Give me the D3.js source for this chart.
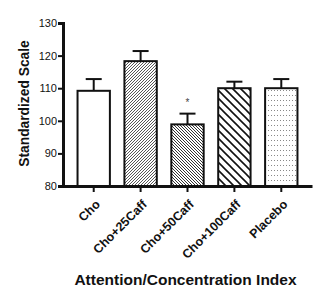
<!DOCTYPE html>
<html>
<head>
<meta charset="utf-8">
<script src="https://cdn.jsdelivr.net/npm/d3@7"></script>
<style>
  body { margin: 0; background: #fff; }
  svg { display: block; font-family: "Liberation Sans", Arial, sans-serif; }
</style>
</head>
<body>
<div id="chart"></div>
<script>
// data
const groups = ["Cho", "Cho+25Caff", "Cho+50Caff", "Cho+100Caff", "Placebo"];
const means = [109.2, 118.3, 98.9, 110, 110];
const sems = [3.6, 3.1, 3.3, 2, 2.8];
const fills = ["white", "url(#p25)", "url(#p50)", "url(#p100)", "url(#pdot)"];
const yTicks = [80, 90, 100, 110, 120, 130];

const W = 321, H = 301;
const margin = { left: 63, right: 9, top: 23, bottom: 115 };
const width = W - margin.left - margin.right;
const height = H - margin.top - margin.bottom;

const svg = d3.select("#chart").append("svg")
    .attr("width", W)
    .attr("height", H);

// fill patterns
const defs = svg.append("defs");

const p25 = defs.append("pattern").attr("id", "p25")
    .attr("patternUnits", "userSpaceOnUse").attr("width", 3).attr("height", 3);
p25.append("rect").attr("width", 3).attr("height", 3).attr("fill", "white");
p25.append("path").attr("d", "M-1,1 L1,-1 M0,3 L3,0 M2,4 L4,2")
    .attr("stroke", "#444").attr("stroke-width", 0.9);

const p50 = defs.append("pattern").attr("id", "p50")
    .attr("patternUnits", "userSpaceOnUse").attr("width", 3).attr("height", 3);
p50.append("rect").attr("width", 3).attr("height", 3).attr("fill", "white");
p50.append("path").attr("d", "M-1,2 L1,4 M0,0 L3,3 M2,-1 L4,1")
    .attr("stroke", "#333").attr("stroke-width", 1);

const p100 = defs.append("pattern").attr("id", "p100")
    .attr("patternUnits", "userSpaceOnUse").attr("width", 8).attr("height", 8);
p100.append("rect").attr("width", 8).attr("height", 8).attr("fill", "white");
p100.append("path").attr("d", "M-2,6 L2,10 M0,0 L8,8 M6,-2 L10,2")
    .attr("stroke", "#111").attr("stroke-width", 1.6);

const pdot = defs.append("pattern").attr("id", "pdot")
    .attr("patternUnits", "userSpaceOnUse").attr("width", 3).attr("height", 5);
pdot.append("rect").attr("width", 3).attr("height", 5).attr("fill", "white");
pdot.append("rect").attr("x", 1).attr("y", 2).attr("width", 1).attr("height", 1).attr("fill", "#888");

const g = svg.append("g")
    .attr("transform", `translate(${margin.left}, ${margin.top})`);

// scales
const x = d3.scaleBand()
    .domain(groups)
    .range([0, width])
    .padding(0.31);

const y = d3.scaleLinear()
    .domain([80, 130])
    .range([height, 0]);

// error bars
groups.forEach((d, i) => {
    const cx = x(d) + x.bandwidth() / 2;
    g.append("line")
        .attr("x1", cx).attr("x2", cx)
        .attr("y1", y(means[i])).attr("y2", y(means[i] + sems[i]))
        .attr("stroke", "#111").attr("stroke-width", 2);
    g.append("line")
        .attr("x1", cx - 8).attr("x2", cx + 8)
        .attr("y1", y(means[i] + sems[i])).attr("y2", y(means[i] + sems[i]))
        .attr("stroke", "#111").attr("stroke-width", 2);
});

// bars
g.selectAll(".bar")
    .data(groups)
    .join("rect")
    .attr("class", "bar")
    .attr("x", d => x(d))
    .attr("y", (d, i) => y(means[i]))
    .attr("width", x.bandwidth())
    .attr("height", (d, i) => y(80) - y(means[i]))
    .attr("fill", (d, i) => fills[i])
    .attr("stroke", "#111")
    .attr("stroke-width", 2);

// significance marker
g.append("text")
    .attr("x", x("Cho+50Caff") + x.bandwidth() / 2)
    .attr("y", y(means[2] + sems[2]) - 8)
    .attr("text-anchor", "middle")
    .style("font-size", "10px")
    .attr("fill", "#444")
    .text("*");

// y axis
const yAxis = g.append("g")
    .call(d3.axisLeft(y).tickValues(yTicks).tickSize(5).tickPadding(1));
yAxis.select(".domain").attr("stroke", "#111").attr("stroke-width", 3);
yAxis.selectAll(".tick line").attr("stroke", "#111").attr("stroke-width", 2);
yAxis.selectAll(".tick text")
    .style("font-size", "11px")
    .attr("fill", "#111");

// x axis
const xAxis = g.append("g")
    .attr("transform", `translate(0, ${height})`)
    .call(d3.axisBottom(x).tickSize(6).tickSizeOuter(0));
xAxis.select(".domain").attr("stroke", "#111").attr("stroke-width", 3);
xAxis.selectAll(".tick line").attr("stroke", "#111").attr("stroke-width", 2);
xAxis.selectAll(".tick text")
    .style("font-size", "12.5px")
    .style("font-weight", "bold")
    .attr("fill", "#111")
    .attr("x", 0)
    .attr("y", 0)
    .attr("text-anchor", "end")
    .attr("dy", "0.35em")
    .attr("transform", "translate(4, 16) rotate(-45)");

// axis titles
g.append("text")
    .attr("transform", "rotate(-90)")
    .attr("x", -height / 2 + 1)
    .attr("y", -34)
    .attr("text-anchor", "middle")
    .style("font-size", "13.8px")
    .style("font-weight", "bold")
    .attr("fill", "#111")
    .text("Standardized Scale");

g.append("text")
    .attr("x", width / 2 - 2)
    .attr("y", height + 99)
    .attr("text-anchor", "middle")
    .style("font-size", "15.5px")
    .style("font-weight", "bold")
    .attr("fill", "#111")
    .text("Attention/Concentration Index");
</script>
</body>
</html>
